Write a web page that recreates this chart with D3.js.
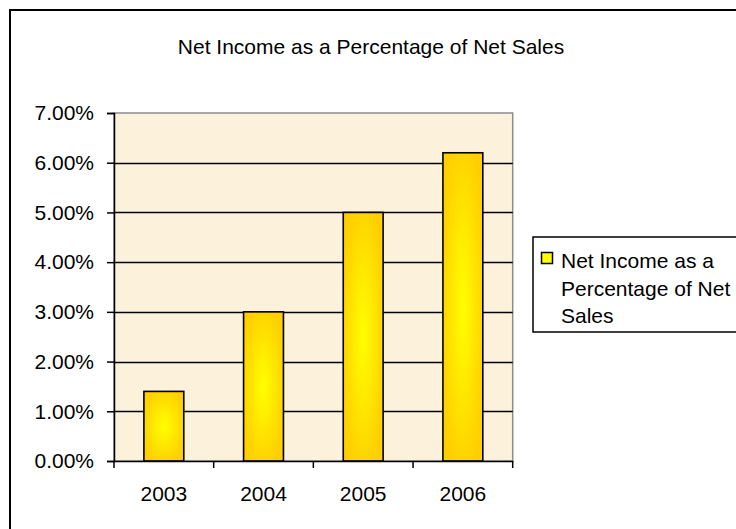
<!DOCTYPE html>
<html>
<head>
<meta charset="utf-8">
<script src="https://cdn.jsdelivr.net/npm/d3@7/dist/d3.min.js"></script>
<style>
  html, body { margin: 0; padding: 0; background: #ffffff; }
  svg { display: block; }
  text { font-family: "Liberation Sans", Arial, sans-serif; fill: #000; }
</style>
</head>
<body>
<svg id="chart" width="736" height="529"></svg>
<script>
// Chart data
const years = ["2003", "2004", "2005", "2006"];
const netIncomePct = [0.014, 0.030, 0.050, 0.062];
const yTicks = [0, 0.01, 0.02, 0.03, 0.04, 0.05, 0.06, 0.07];
const chartTitle = "Net Income as a Percentage of Net Sales";
const seriesName = ["Net Income as a", "Percentage of Net", "Sales"];

const FONT = "Liberation Sans, Arial, sans-serif";
const FS = 21;

const svg = d3.select("#chart");
const plot = { left: 114, right: 512.7, top: 113, bottom: 461 };

const defs = svg.append("defs");
const grad = defs.append("radialGradient")
  .attr("id", "barFill")
  .attr("cx", "50%").attr("cy", "50%").attr("r", "70%");
grad.append("stop").attr("offset", "0%").attr("stop-color", "#ffff00");
grad.append("stop").attr("offset", "75%").attr("stop-color", "#ffd200");
grad.append("stop").attr("offset", "100%").attr("stop-color", "#ffcc00");

// Outer chart frame (runs off the right and bottom edges)
svg.append("rect")
  .attr("x", 10).attr("y", 10)
  .attr("width", 760).attr("height", 540)
  .attr("fill", "#ffffff")
  .attr("stroke", "#000").attr("stroke-width", 2);

// Title
svg.append("text")
  .attr("x", 371).attr("y", 54)
  .attr("text-anchor", "middle")
  .attr("font-size", FS)
  .text(chartTitle);

const x = d3.scaleBand()
  .domain(years)
  .range([plot.left, plot.right])
  .paddingInner(0.6)
  .paddingOuter(0.3);

const y = d3.scaleLinear()
  .domain([0, 0.07])
  .range([plot.bottom, plot.top]);

// Plot area background
svg.append("rect")
  .attr("x", plot.left).attr("y", plot.top)
  .attr("width", plot.right - plot.left)
  .attr("height", plot.bottom - plot.top)
  .attr("fill", "#fcf2dc")
  .attr("stroke", "#8c8c8c").attr("stroke-width", 1.5);

// Horizontal gridlines
svg.append("g")
  .selectAll("line")
  .data(yTicks.filter(t => t > 0 && t < 0.07))
  .join("line")
  .attr("x1", plot.left).attr("x2", plot.right)
  .attr("y1", d => Math.round(y(d)) + 0.5)
  .attr("y2", d => Math.round(y(d)) + 0.5)
  .attr("stroke", "#000").attr("stroke-width", 1.3);

// Bars
svg.append("g")
  .selectAll("rect")
  .data(years.map((yr, i) => ({ yr, v: netIncomePct[i] })))
  .join("rect")
  .attr("x", d => x(d.yr))
  .attr("y", d => y(d.v))
  .attr("width", x.bandwidth())
  .attr("height", d => y(0) - y(d.v))
  .attr("fill", "url(#barFill)")
  .attr("stroke", "#000").attr("stroke-width", 1.6);

// Y axis
const yAxis = svg.append("g")
  .attr("transform", `translate(${plot.left},0)`)
  .call(d3.axisLeft(y).tickValues(yTicks).tickFormat(d3.format(".2%")).tickSize(7).tickPadding(13));
yAxis.select(".domain").attr("stroke", "#000").attr("stroke-width", 1.5);
yAxis.selectAll(".tick line").attr("stroke", "#000").attr("stroke-width", 1.5);
yAxis.selectAll(".tick text").attr("font-size", FS).attr("font-family", FONT);

// X axis with ticks at category boundaries
const xAxis = svg.append("g")
  .attr("transform", `translate(0,${plot.bottom})`)
  .call(d3.axisBottom(x).tickSize(0).tickPadding(25));
xAxis.select(".domain").attr("stroke", "#000").attr("stroke-width", 1.5);
xAxis.selectAll(".tick text").attr("font-size", FS).attr("font-family", FONT);
const step = x.step();
xAxis.selectAll(".sep")
  .data(d3.range(years.length + 1))
  .join("line")
  .attr("class", "sep")
  .attr("x1", i => plot.left + i * step)
  .attr("x2", i => plot.left + i * step)
  .attr("y1", 0).attr("y2", 7)
  .attr("stroke", "#000").attr("stroke-width", 1.5);

// Legend
const lg = svg.append("g");
lg.append("rect")
  .attr("x", 533).attr("y", 237)
  .attr("width", 230).attr("height", 95)
  .attr("fill", "#fff")
  .attr("stroke", "#000").attr("stroke-width", 1.5);
lg.append("rect")
  .attr("x", 541.5).attr("y", 252.5)
  .attr("width", 11).attr("height", 11)
  .attr("fill", "#ffff00")
  .attr("stroke", "#000").attr("stroke-width", 1.5);
lg.selectAll("text.item")
  .data(seriesName)
  .join("text")
  .attr("class", "item")
  .attr("x", 561)
  .attr("y", (d, i) => 268 + i * 27.5)
  .attr("font-size", FS)
  .text(d => d);
</script>
</body>
</html>
